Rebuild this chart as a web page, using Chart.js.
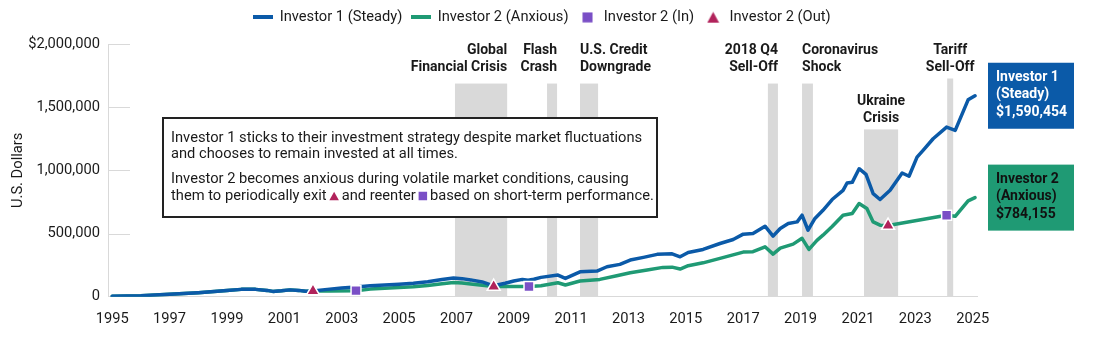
<!DOCTYPE html>
<html>
<head>
<meta charset="utf-8">
<script src="https://cdn.jsdelivr.net/npm/chart.js@4.4.1/dist/chart.umd.min.js"></script>
<style>
  html, body { margin: 0; padding: 0; background: #ffffff; }
  #wrap { width: 1100px; height: 343px; }
</style>
</head>
<body>
<div id="wrap"><canvas id="growth" width="1100" height="343"></canvas></div>
<script>
// ---- Portfolio values (year as decimal, value in U.S. dollars) ----
const investor1Dates = [1995.0, 1996.0, 1997.0, 1998.0, 1999.0, 1999.5, 2000.0, 2000.4, 2000.6, 2000.9,
  2001.2, 2001.5, 2001.75, 2002.0, 2002.5, 2003.0, 2003.5, 2004.0, 2004.5, 2005.0,
  2005.5, 2006.0, 2006.5, 2006.9, 2007.2, 2007.5, 2007.9, 2008.3, 2008.7, 2009.0,
  2009.3, 2009.5, 2009.7, 2009.95, 2010.54, 2010.8, 2011.31, 2011.9, 2012.25, 2012.7,
  2013.06, 2013.52, 2014.0, 2014.52, 2014.8, 2015.08, 2015.6, 2016.19, 2016.65, 2017.0,
  2017.34, 2017.76, 2018.04, 2018.29, 2018.57, 2018.88, 2019.05, 2019.26, 2019.5, 2019.78,
  2020.1, 2020.48, 2020.62, 2020.8, 2021.04, 2021.28, 2021.53, 2021.77, 2022.12, 2022.54,
  2022.78, 2023.06, 2023.27, 2023.62, 2024.09, 2024.39, 2024.84, 2025.08];
const investor1Values = [3000, 8000, 19000, 32000, 50000, 58000, 58000, 50000, 42000, 47000,
  54000, 50000, 43000, 45000, 58000, 68000, 76000, 87000, 92000, 98000,
  106000, 118000, 136000, 148000, 143000, 133000, 117000, 86000, 106000, 124000,
  137000, 130000, 138000, 153000, 171000, 145000, 197000, 203000, 237000, 256000,
  290000, 311000, 335000, 339000, 316000, 350000, 374000, 421000, 453000, 495000,
  500000, 558000, 479000, 540000, 579000, 592000, 645000, 526000, 619000, 684000,
  769000, 842000, 900000, 905000, 1013000, 968000, 816000, 769000, 842000, 979000,
  953000, 1105000, 1158000, 1250000, 1342000, 1316000, 1558000, 1590454];

const investor2Dates = [1995.0, 1996.0, 1997.0, 1998.0, 1999.0, 1999.5, 2000.0, 2000.4, 2000.6, 2000.9,
  2001.2, 2001.5, 2001.75, 2002.0, 2002.6, 2003.5, 2004.0, 2005.0, 2005.5, 2006.0,
  2006.5, 2006.9, 2007.2, 2007.5, 2007.9, 2008.3, 2009.53, 2009.95, 2010.54, 2010.8,
  2011.31, 2012.0, 2012.59, 2013.06, 2013.65, 2014.2, 2014.52, 2014.8, 2015.08, 2015.6,
  2016.19, 2017.0, 2017.34, 2017.76, 2018.04, 2018.29, 2018.74, 2019.05, 2019.29, 2019.57,
  2019.78, 2020.1, 2020.48, 2020.8, 2021.04, 2021.31, 2021.53, 2021.77, 2022.05, 2024.09,
  2024.39, 2024.84, 2025.08];
const investor2Values = [3000, 8000, 19000, 32000, 50000, 58000, 58000, 50000, 42000, 47000,
  54000, 50000, 43000, 45000, 46000, 48000, 60000, 72000, 78000, 88000,
  102000, 112000, 108000, 101000, 90000, 80000, 81000, 86000, 110000, 93000,
  124000, 137000, 166000, 189000, 211000, 232000, 234000, 219000, 245000, 268000,
  303000, 353000, 356000, 395000, 337000, 385000, 416000, 462000, 374000, 446000,
  487000, 555000, 645000, 658000, 737000, 698000, 592000, 566000, 563000, 645000,
  636000, 758000, 784155];

// Investor 2 leaves the market (Out) and comes back (In)
const exitDates = [2002.0, 2008.3, 2022.05];
const exitValues = [45000, 80000, 563000];
const reentryDates = [2003.5, 2009.53, 2024.09];
const reentryValues = [48000, 81000, 645000];

// Market events shaded on the chart
const eventNames = [['Global', 'Financial Crisis'], ['Flash', 'Crash'], ['U.S. Credit', 'Downgrade'],
  ['2018 Q4', 'Sell-Off'], ['Coronavirus', 'Shock'], ['Ukraine', 'Crisis'], ['Tariff', 'Sell-Off']];
const eventStarts = [2006.95, 2010.16, 2011.31, 2017.86, 2019.05, 2021.21, 2024.11];
const eventEnds = [2008.77, 2010.51, 2011.94, 2018.21, 2019.43, 2022.40, 2024.32];

// Axis ticks
const yearTicks = [1995, 1997, 1999, 2001, 2003, 2005, 2007, 2009, 2011, 2013, 2015, 2017, 2019, 2021, 2023, 2025];
const valueTicks = [0, 500000, 1000000, 1500000, 2000000];

// ---- Styling ----
const COLORS = {
  steady: '#0b5aa8',
  anxious: '#1f9a74',
  reenter: '#7a4fc6',
  exit: '#b1235b',
  band: '#d9d9d9',
  axis: '#d9d9d9',
  text: '#1a1a1a',
  frame: '#222222'
};
const FONT = 'Roboto';
const TEXT_SIZE = 14.7;

// Placement of each event caption: text alignment against the band, band top and first caption line (in dollars)
const eventLayout = [
  { align: 'right',  bandTop: 1687000, labelAt: 1947000 },
  { align: 'right',  bandTop: 1687000, labelAt: 1947000 },
  { align: 'left',   bandTop: 1687000, labelAt: 1947000 },
  { align: 'right',  bandTop: 1687000, labelAt: 1947000 },
  { align: 'left',   bandTop: 1687000, labelAt: 1947000 },
  { align: 'center', bandTop: 1324000, labelAt: 1545000 },
  { align: 'center', bandTop: 1727000, labelAt: 1947000 }
];

const noteLines = [
  'Investor 1 sticks to their investment strategy despite market fluctuations',
  'and chooses to remain invested at all times.',
  'Investor 2 becomes anxious during volatile market conditions, causing'
];
const noteLastLine = ['them to periodically exit', 'and reenter', 'based on short-term performance.'];

function toPoints(xs, ys) { return xs.map((x, i) => ({ x: x, y: ys[i] })); }
const fmt = v => Math.round(v).toLocaleString('en-US');

// Small legend icons
function iconCanvas(w, h, draw) {
  const c = document.createElement('canvas');
  c.width = w; c.height = h;
  draw(c.getContext('2d'));
  return c;
}
const legendIcons = [
  iconCanvas(20, 4, g => { g.fillStyle = COLORS.steady; g.fillRect(0, 0, 20, 4); }),
  iconCanvas(20, 4, g => { g.fillStyle = COLORS.anxious; g.fillRect(0, 0, 20, 4); }),
  iconCanvas(11, 11, g => { g.fillStyle = COLORS.reenter; g.fillRect(0.5, 0.5, 10, 10); }),
  iconCanvas(13, 12, g => { g.fillStyle = COLORS.exit; g.beginPath(); g.moveTo(6.5, 0.5); g.lineTo(12.5, 11.5); g.lineTo(0.5, 11.5); g.closePath(); g.fill(); })
];

function drawTriangle(ctx, cx, cy, w, color) {
  const h = w * 0.9;
  ctx.fillStyle = color;
  ctx.beginPath();
  ctx.moveTo(cx, cy - h / 2);
  ctx.lineTo(cx + w / 2, cy + h / 2);
  ctx.lineTo(cx - w / 2, cy + h / 2);
  ctx.closePath();
  ctx.fill();
}

// Extra room under the legend
const legendSpacer = {
  id: 'legendSpacer',
  beforeLayout(chart) {
    const legend = chart.legend;
    if (!legend || legend._spaced) return;
    const fit = legend.fit;
    legend.fit = function () { fit.call(this); this.height += 9.3; };
    legend._spaced = true;
  }
};

const annotations = {
  id: 'annotations',
  beforeDatasetsDraw(chart) {
    const { ctx, chartArea, scales: { x, y } } = chart;
    ctx.save();
    // short gridline stubs next to the value axis
    ctx.strokeStyle = COLORS.axis;
    ctx.lineWidth = 1;
    valueTicks.forEach(v => {
      if (v === 0) return;
      const py = Math.round(y.getPixelForValue(v)) + 0.5;
      ctx.beginPath();
      ctx.moveTo(chartArea.left, py);
      ctx.lineTo(chartArea.left + 22, py);
      ctx.stroke();
    });
    // event bands
    ctx.fillStyle = COLORS.band;
    eventStarts.forEach((s, i) => {
      const x0 = x.getPixelForValue(s);
      const x1 = x.getPixelForValue(eventEnds[i]);
      const top = y.getPixelForValue(eventLayout[i].bandTop);
      ctx.fillRect(x0, top, x1 - x0, chartArea.bottom - 0.5 - top);
    });
    ctx.restore();
  },
  afterDatasetsDraw(chart) {
    const { ctx, chartArea, scales: { x, y } } = chart;
    ctx.save();

    // event captions
    ctx.font = 'bold 14px ' + FONT;
    ctx.fillStyle = COLORS.text;
    ctx.textBaseline = 'middle';
    eventNames.forEach((lines, i) => {
      const lay = eventLayout[i];
      const x0 = x.getPixelForValue(eventStarts[i]);
      const x1 = x.getPixelForValue(eventEnds[i]);
      const tx = lay.align === 'left' ? x0 : lay.align === 'right' ? x1 : (x0 + x1) / 2;
      ctx.textAlign = lay.align;
      const y0 = y.getPixelForValue(lay.labelAt);
      lines.forEach((t, k) => ctx.fillText(t, tx, y0 + k * 17));
    });

    // explanatory note
    const bx = chartArea.left + 55, by = chartArea.top + 74, bw = 494, bh = 99;
    ctx.fillStyle = '#ffffff';
    ctx.fillRect(bx, by, bw, bh);
    ctx.strokeStyle = COLORS.frame;
    ctx.lineWidth = 2;
    ctx.strokeRect(bx, by, bw, bh);
    ctx.font = TEXT_SIZE + 'px ' + FONT;
    ctx.fillStyle = COLORS.text;
    ctx.textAlign = 'left';
    const tx = bx + 8;
    const rows = [20, 36.5, 61, 78];
    noteLines.forEach((t, k) => ctx.fillText(t, tx, by + rows[k]));
    // last line carries the exit / reenter symbols inline
    const gap = 2.8;
    let cx = tx;
    const ly = by + rows[3];
    ctx.fillText(noteLastLine[0], cx, ly);
    cx += ctx.measureText(noteLastLine[0]).width + gap;
    drawTriangle(ctx, cx + 4.75, ly, 9.5, COLORS.exit);
    cx += 9.5 + gap;
    ctx.fillStyle = COLORS.text;
    ctx.fillText(noteLastLine[1], cx, ly);
    cx += ctx.measureText(noteLastLine[1]).width + gap;
    ctx.fillStyle = COLORS.reenter;
    ctx.fillRect(cx, ly - 4.25, 8.5, 8.5);
    cx += 8.5 + gap;
    ctx.fillStyle = COLORS.text;
    ctx.fillText(noteLastLine[2], cx, ly);

    // ending values
    const ends = [
      { ds: 0, fill: COLORS.steady, ink: '#ffffff', value: investor1Values[investor1Values.length - 1] },
      { ds: 1, fill: COLORS.anxious, ink: '#111111', value: investor2Values[investor2Values.length - 1] }
    ];
    ctx.font = 'bold 14px ' + FONT;
    ends.forEach(e => {
      const label = chart.data.datasets[e.ds].label;
      const parts = label.split(' (');
      const lines = [parts[0], '(' + parts[1], '$' + fmt(e.value)];
      const cy = y.getPixelForValue(e.value);
      const left = chartArea.right + 11, w = 86, h = 66, top = cy - h / 2;
      ctx.fillStyle = e.fill;
      ctx.fillRect(left, top, w, h);
      ctx.fillStyle = e.ink;
      ctx.textAlign = 'left';
      lines.forEach((t, k) => ctx.fillText(t, left + 8, top + 14.5 + k * 17.5));
    });
    ctx.restore();
  }
};

Chart.defaults.font.family = FONT;
Chart.defaults.color = COLORS.text;

new Chart(document.getElementById('growth'), {
  type: 'line',
  data: {
    datasets: [
      {
        label: 'Investor 1 (Steady)',
        data: toPoints(investor1Dates, investor1Values),
        borderColor: COLORS.steady,
        backgroundColor: COLORS.steady,
        borderWidth: 3.5,
        pointRadius: 0,
        tension: 0,
        borderJoinStyle: 'round',
        borderCapStyle: 'round',
        order: 1
      },
      {
        label: 'Investor 2 (Anxious)',
        data: toPoints(investor2Dates, investor2Values),
        borderColor: COLORS.anxious,
        backgroundColor: COLORS.anxious,
        borderWidth: 3.5,
        pointRadius: 0,
        tension: 0,
        borderJoinStyle: 'round',
        borderCapStyle: 'round',
        order: 2
      },
      {
        label: 'Investor 2 (In)',
        data: toPoints(reentryDates, reentryValues),
        showLine: false,
        pointStyle: 'rect',
        pointRadius: 7,
        pointBackgroundColor: COLORS.reenter,
        pointBorderColor: '#ffffff',
        pointBorderWidth: 1.5,
        order: 0
      },
      {
        label: 'Investor 2 (Out)',
        data: toPoints(exitDates, exitValues),
        showLine: false,
        pointStyle: 'triangle',
        pointRadius: 7.5,
        pointBackgroundColor: COLORS.exit,
        pointBorderColor: '#ffffff',
        pointBorderWidth: 1.5,
        order: 0
      }
    ]
  },
  options: {
    responsive: false,
    animation: false,
    layout: { padding: { top: 0, right: 123, bottom: 0, left: 0 } },
    plugins: {
      tooltip: { enabled: false },
      legend: {
        position: 'top',
        fullSize: false,
        labels: {
          usePointStyle: true,
          pointStyleWidth: 18,
          padding: 10,
          color: COLORS.text,
          font: { family: FONT, size: TEXT_SIZE },
          generateLabels: chart => chart.data.datasets.map((ds, i) => ({
            text: ds.label,
            pointStyle: legendIcons[i],
            fillStyle: 'transparent',
            strokeStyle: 'transparent',
            lineWidth: 0,
            hidden: false,
            datasetIndex: i,
            fontColor: COLORS.text
          }))
        }
      }
    },
    scales: {
      x: {
        type: 'linear',
        min: 1994.854,
        max: 2025.15,
        afterBuildTicks: s => { s.ticks = yearTicks.map(v => ({ value: v })); },
        afterFit: s => { s.height = 46.3; },
        grid: { display: false, drawTicks: false },
        border: { display: true, color: COLORS.axis, width: 1 },
        ticks: {
          autoSkip: false,
          maxRotation: 0,
          padding: 14,
          color: COLORS.text,
          font: { size: TEXT_SIZE },
          callback: v => String(v)
        }
      },
      y: {
        min: 0,
        max: 2000000,
        afterBuildTicks: s => { s.ticks = valueTicks.map(v => ({ value: v })); },
        afterFit: s => { s.width = 108; },
        grid: { display: false, drawTicks: false },
        border: { display: true, color: COLORS.axis, width: 1 },
        title: {
          display: true,
          text: 'U.S. Dollars',
          color: COLORS.text,
          font: { size: TEXT_SIZE },
          padding: { top: 10, bottom: 0 }
        },
        ticks: {
          padding: 8,
          color: COLORS.text,
          font: { size: TEXT_SIZE },
          callback: v => (v === 2000000 ? '$' : '') + fmt(v)
        }
      }
    }
  },
  plugins: [legendSpacer, annotations]
});
</script>
</body>
</html>
